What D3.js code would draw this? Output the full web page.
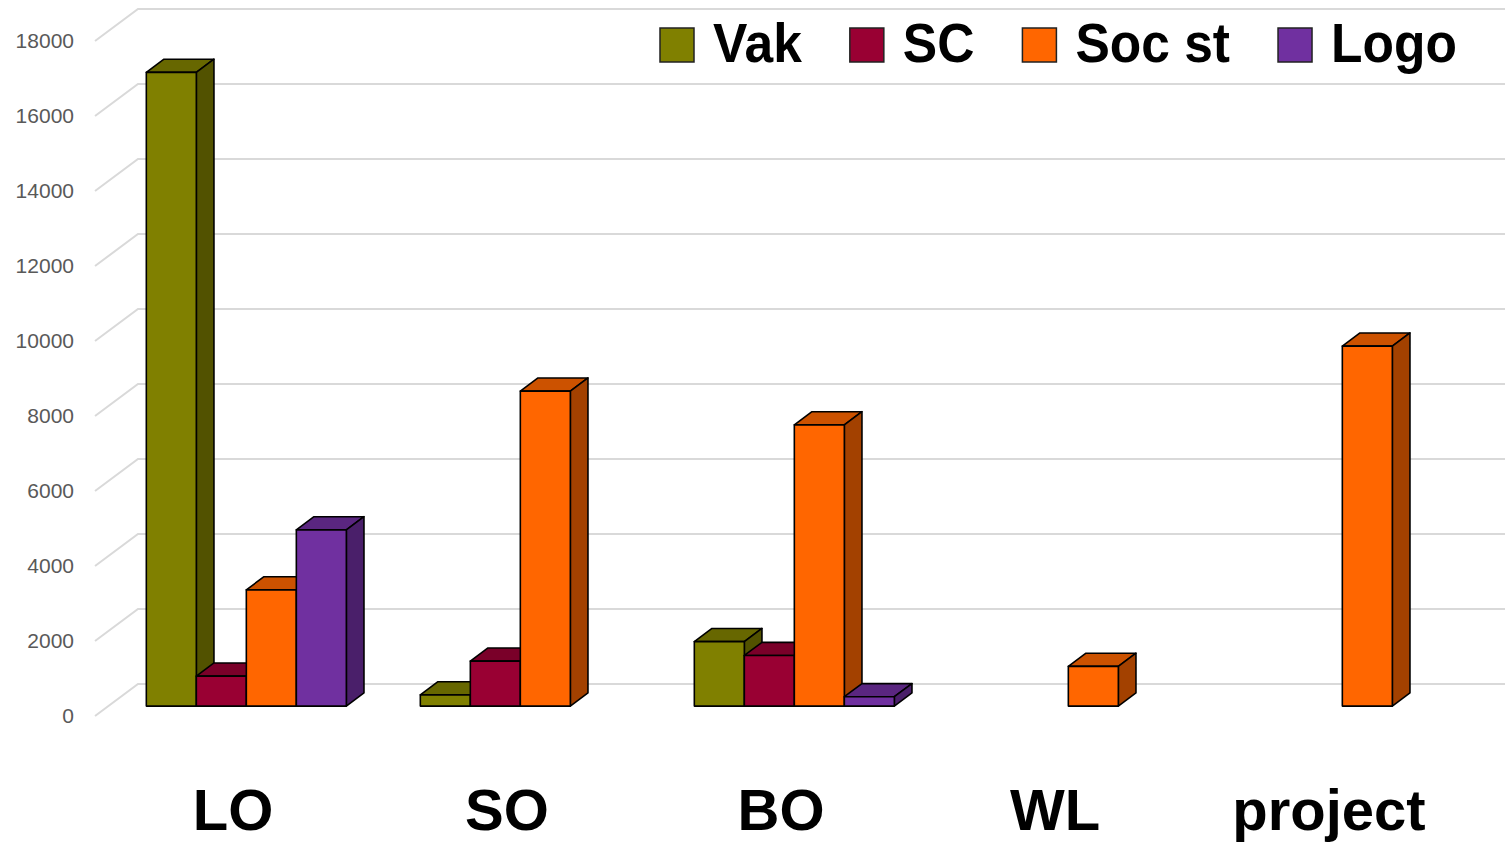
<!DOCTYPE html>
<html>
<head>
<meta charset="utf-8">
<script src="https://cdn.jsdelivr.net/npm/d3@7"></script>
<style>
  body { margin: 0; background: #fff; }
  svg { display: block; }
</style>
</head>
<body>
<div class="svg-container"></div>
<script>
// data
var categories = ["LO", "SO", "BO", "WL", "project"];
var seriesNames = ["Vak", "SC", "Soc st", "Logo"];
var vak   = [16900, 300, 1720, null, null];
var sc    = [800, 1200, 1350, null, null];
var socSt = [3100, 8400, 7500, 1060, 9600];
var logo  = [4700, null, 250, null, null];
var yTicks = [0, 2000, 4000, 6000, 8000, 10000, 12000, 14000, 16000, 18000];

var seriesValues = [vak, sc, socSt, logo];
var colors = {
  "Vak":    { front: "#808000", top: "#676700", side: "#525200" },
  "SC":     { front: "#990033", top: "#7a0029", side: "#660022" },
  "Soc st": { front: "#ff6600", top: "#cc5200", side: "#a34100" },
  "Logo":   { front: "#7030a0", top: "#5a2680", side: "#4a1f6a" }
};

var width = 1505, height = 847;

var svg = d3.select(".svg-container").append("svg")
  .attr("width", width)
  .attr("height", height);

// floor depth (front plane -> back wall)
var depthX = 43, depthY = 32;
// bars sit inside the depth, from frontF to backF
var frontF = 0.31, backF = 0.72;

var y = d3.scaleLinear().domain([0, 18000]).range([716, 41]);

var x0 = d3.scaleBand().domain(categories).range([96, 1466])
  .paddingInner(0.27).paddingOuter(0.135);
var x1 = d3.scaleBand().domain(seriesNames).range([0, x0.bandwidth()]);

// gridlines
var grid = svg.append("g");
grid.selectAll("path")
  .data(yTicks)
  .enter().append("path")
  .attr("d", function(d) {
    var yy = y(d);
    return "M95," + yy + "L" + (95 + depthX) + "," + (yy - depthY) + "L" + width + "," + (yy - depthY);
  })
  .attr("fill", "none")
  .attr("stroke", "#d9d9d9")
  .attr("stroke-width", 2);

// y axis labels
svg.append("g").selectAll("text")
  .data(yTicks)
  .enter().append("text")
  .attr("x", 74)
  .attr("y", function(d) { return y(d); })
  .attr("dy", "0.35em")
  .attr("text-anchor", "end")
  .attr("font-family", "Liberation Sans, Arial, sans-serif")
  .attr("font-size", 21)
  .attr("fill", "#595959")
  .text(function(d) { return d; });

// bars, drawn left to right so each front face hides the previous side
var bars = [];
categories.forEach(function(c, ci) {
  seriesNames.forEach(function(s, si) {
    var v = seriesValues[si][ci];
    if (v == null) return;
    bars.push({ cat: c, name: s, value: v });
  });
});

var fdx = depthX * frontF, fdy = depthY * frontF;
var bdx = depthX * (backF - frontF), bdy = depthY * (backF - frontF);
var bw = x1.bandwidth();

function pts(p) {
  return p.map(function(q) { return q[0] + "," + q[1]; }).join(" ");
}

var barG = svg.append("g")
  .attr("stroke", "#000")
  .attr("stroke-width", 1.6)
  .attr("stroke-linejoin", "round");

bars.forEach(function(d) {
  var xl = x0(d.cat) + x1(d.name) + fdx;
  var xr = xl + bw;
  var yb = y(0) - fdy;
  var yt = y(d.value) - fdy;
  var g = barG.append("g");
  g.append("polygon")
    .attr("points", pts([[xl, yt], [xr, yt], [xr + bdx, yt - bdy], [xl + bdx, yt - bdy]]))
    .attr("fill", colors[d.name].top);
  g.append("polygon")
    .attr("points", pts([[xr, yt], [xr + bdx, yt - bdy], [xr + bdx, yb - bdy], [xr, yb]]))
    .attr("fill", colors[d.name].side);
  g.append("rect")
    .attr("x", xl)
    .attr("y", yt)
    .attr("width", bw)
    .attr("height", yb - yt)
    .attr("fill", colors[d.name].front);
});

// category labels
svg.append("g").selectAll("text")
  .data(categories)
  .enter().append("text")
  .attr("x", function(d) { return x0(d) + x0.bandwidth() / 2; })
  .attr("y", 830)
  .attr("text-anchor", "middle")
  .attr("font-family", "Liberation Sans, Arial, sans-serif")
  .attr("font-weight", "bold")
  .attr("font-size", 58)
  .attr("fill", "#000")
  .text(function(d) { return d; });

// legend (text squeezed a bit to mimic the narrow original face)
var legend = svg.append("g");
var lx = 660;
seriesNames.forEach(function(s) {
  legend.append("rect")
    .attr("x", lx).attr("y", 28)
    .attr("width", 34).attr("height", 34)
    .attr("fill", colors[s].front)
    .attr("stroke", "#222")
    .attr("stroke-width", 1.5);
  var t = legend.append("text")
    .attr("x", lx + 53)
    .attr("y", 62)
    .attr("font-family", "Liberation Sans, Arial, sans-serif")
    .attr("font-weight", "bold")
    .attr("font-size", 56)
    .attr("fill", "#000")
    .text(s);
  var w = t.node().getComputedTextLength() * 0.92;
  t.attr("textLength", w).attr("lengthAdjust", "spacingAndGlyphs");
  lx += 53 + w + 48;
});
</script>
</body>
</html>
